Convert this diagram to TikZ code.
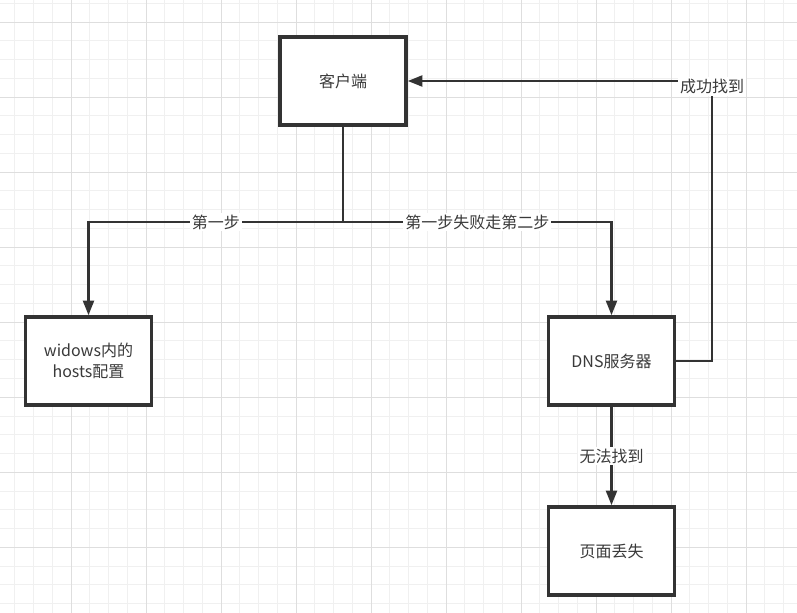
\documentclass[tikz,border=0pt]{standalone}
\usepackage{fontspec}
\setmainfont{Noto Sans CJK SC}
\usetikzlibrary{arrows.meta}
\definecolor{linec}{HTML}{333333}
\definecolor{textc}{HTML}{3A3A3A}
\definecolor{gridminor}{HTML}{F0F0F0}
\definecolor{gridmajor}{HTML}{DEDEDE}
\begin{document}
\begin{tikzpicture}[x=0.75pt, y=-0.75pt,
  box/.style={draw=linec, line width=2.4pt, fill=white, minimum width=94.5pt,
    minimum height=66pt, align=center, text=textc, font=\fontsize{12}{15.5}\selectfont},
  link/.style={draw=linec, line width=2.1pt, -{Triangle[length=11pt, width=8pt]}},
  plain/.style={draw=linec, line width=2.1pt},
  tag/.style={fill=white, inner sep=1.5pt, text=textc, font=\fontsize{12}{14}\selectfont}]
\useasboundingbox (0,0) rectangle (797,613);
\fill[white] (0,0) rectangle (797,613);
% grid
\begin{scope}
\clip (0,0) rectangle (797,613);
\foreach \i in {0,...,42}
  \draw[gridminor, line width=0.75pt] ({14.75+18.75*\i},0) -- ++(0,613);
\foreach \i in {0,...,32}
  \draw[gridminor, line width=0.75pt] (0,{3.5+18.75*\i}) -- ++(797,0);
\foreach \i in {-1,...,10}
  \draw[gridmajor, line width=0.75pt] ({71+75*\i},0) -- ++(0,613);
\foreach \i in {0,...,8}
  \draw[gridmajor, line width=0.75pt] (0,{22.3+75*\i}) -- ++(797,0);
\end{scope}
% boxes
\node[box] (client) at (343,81) {客户端};
\node[box] (hosts) at (88.5,361) {widows内的\\hosts配置};
\node[box] (dns) at (611.5,361) {DNS服务器};
\node[box] (lost) at (611.5,551) {页面丢失};
% connectors
\coordinate (split) at (343,222);
\draw[plain] (client.south) -- (split);
\draw[link] (split) -| node[tag, pos=0.25] {第一步} (hosts.north);
\draw[link] (split) -| node[tag, pos=0.25] {第一步失败走第二步} (dns.north);
\draw[link] (dns.east) -- (712,361) |- node[tag, pos=0.49] {成功找到} (client.east);
\draw[link] (dns.south) -- node[tag] {无法找到} (lost.north);
\end{tikzpicture}
\end{document}
